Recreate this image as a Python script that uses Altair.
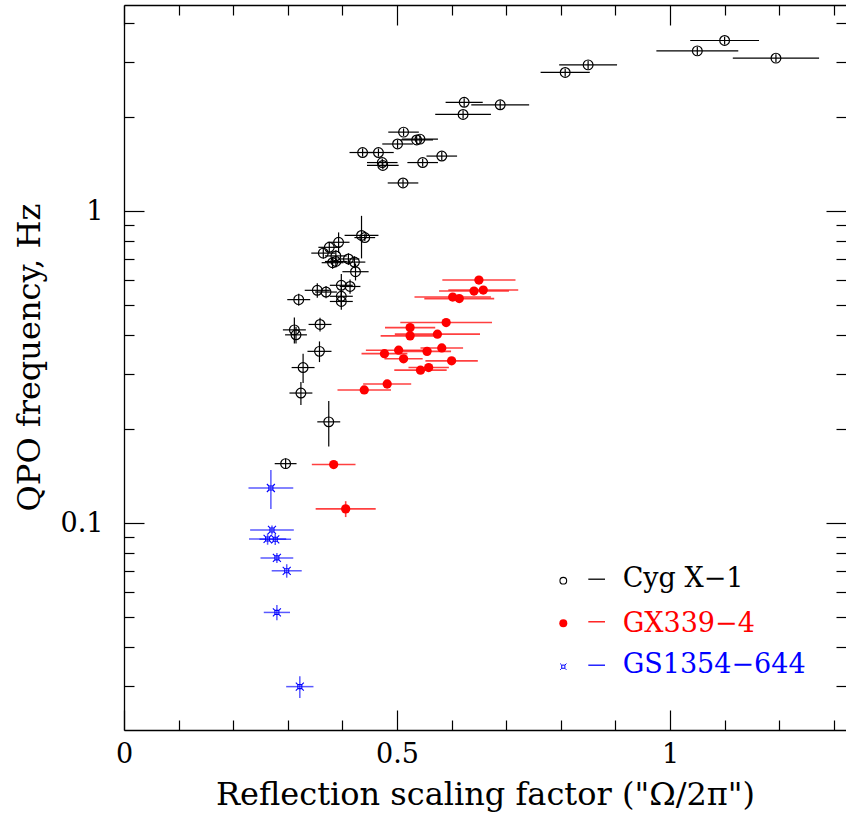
import altair as alt
import pandas as pd

# ---------------- data ----------------
# Cyg X-1  (x = reflection scaling factor, y = QPO frequency in Hz)
cyg_x = [1.100, 1.050, 1.194, 0.850, 0.808, 0.623, 0.689, 0.621, 0.512, 0.542,
         0.536, 0.501, 0.437, 0.466, 0.582, 0.473, 0.474, 0.547, 0.511,
         0.435, 0.441, 0.393, 0.376, 0.365, 0.388, 0.382, 0.388, 0.411, 0.422,
         0.424, 0.398, 0.414, 0.354, 0.370, 0.398, 0.398, 0.320, 0.359, 0.312,
         0.315, 0.358, 0.328, 0.324, 0.375, 0.296]
cyg_y = [3.52, 3.26, 3.09, 2.94, 2.78, 2.23, 2.19, 2.04, 1.79, 1.70,
         1.69, 1.64, 1.54, 1.54, 1.50, 1.43, 1.40, 1.43, 1.23,
         0.835, 0.822, 0.794, 0.765, 0.733, 0.718, 0.683, 0.689, 0.702, 0.686,
         0.639, 0.578, 0.573, 0.557, 0.550, 0.533, 0.513, 0.520, 0.433, 0.416,
         0.401, 0.355, 0.315, 0.261, 0.211, 0.155]
cyg_xerr = [0.063, 0.075, 0.079, 0.053, 0.045, 0.034, 0.053, 0.051, 0.028, 0.033,
            0.030, 0.028, 0.024, 0.028, 0.028, 0.028, 0.029, 0.028, 0.028,
            0.031, 0.019, 0.020, 0.020, 0.022, 0.020, 0.020, 0.020, 0.020, 0.020,
            0.024, 0.021, 0.019, 0.023, 0.020, 0.021, 0.021, 0.021, 0.021, 0.021,
            0.020, 0.022, 0.021, 0.021, 0.021, 0.020]
cyg_yerr = [0.10, 0.10, 0.09, 0.09, 0.08, 0.07, 0.07, 0.06, 0.05, 0.05,
            0.05, 0.05, 0.045, 0.045, 0.045, 0.04, 0.04, 0.04, 0.035,
            0.13, 0.02, 0.06, 0.03, 0.03, 0.03, 0.03, 0.03, 0.03, 0.03,
            0.04, 0.05, 0.03, 0.03, 0.025, 0.035, 0.03, 0.023, 0.022, 0.04,
            0.025, 0.027, 0.034, 0.022, 0.035, 0.006]

# GX339-4
gx_x = [0.650, 0.641, 0.658, 0.602, 0.614, 0.590, 0.524, 0.524, 0.574, 0.503,
        0.477, 0.555, 0.582, 0.512, 0.600, 0.543, 0.558, 0.482, 0.440, 0.384, 0.406]
gx_y = [0.601, 0.554, 0.558, 0.530, 0.524, 0.439, 0.423, 0.398, 0.403, 0.358,
        0.349, 0.355, 0.364, 0.336, 0.331, 0.309, 0.315, 0.279, 0.267, 0.154, 0.111]
gx_xerr = [0.067, 0.064, 0.064, 0.070, 0.064, 0.084, 0.046, 0.054, 0.078, 0.060,
           0.042, 0.044, 0.039, 0.035, 0.048, 0.048, 0.037, 0.044, 0.049, 0.040, 0.055]
gx_yerr = [0, 0, 0, 0, 0, 0, 0, 0, 0, 0,
           0, 0, 0, 0, 0, 0, 0, 0, 0, 0, 0.0065]

# GS1354-644
gs_x = [0.269, 0.271, 0.263, 0.277, 0.280, 0.298, 0.280, 0.322]
gs_y = [0.1295, 0.0950, 0.0889, 0.0887, 0.0773, 0.0703, 0.0517, 0.0299]
gs_xerr = [0.041, 0.040, 0.034, 0.029, 0.030, 0.0275, 0.024, 0.025]
gs_yerr = [0.0185, 0.0032, 0.0037, 0.0037, 0.0029, 0.0035, 0.0029, 0.0024]

legend_labels = ["Cyg X\u22121", "GX339\u22124", "GS1354\u2212644"]
x_title = "Reflection scaling factor (\"\u03a9/2\u03c0\")"
y_title = "QPO frequency, Hz"

x_major = [0, 0.5, 1.0]
x_minor = [0.1, 0.2, 0.3, 0.4, 0.6, 0.7, 0.8, 0.9, 1.1, 1.2, 1.3]
y_major = [0.1, 1.0]
y_minor = [0.03, 0.04, 0.05, 0.06, 0.07, 0.08, 0.09,
           0.2, 0.3, 0.4, 0.5, 0.6, 0.7, 0.8, 0.9, 2, 3, 4]

X_DOMAIN = [0, 1.3223]
Y_DOMAIN = [0.02171, 4.574]

# ---------------- layout / style ----------------
W, H = 722, 725
FONT = "DejaVu Serif"
BLACK, RED, BLUE = "#000000", "#ff0000", "#0000ff"
STAR = ("M-0.5,-0.5H0.5V0.5H-0.5Z"
        "M-0.5,-0.5L-1,-1M0.5,-0.5L1,-1M0.5,0.5L1,1M-0.5,0.5L-1,1")


def table(x, y, xerr, yerr):
    df = pd.DataFrame({"x": x, "y": y, "xerr": xerr, "yerr": yerr})
    df["xlo"] = df["x"] - df["xerr"]
    df["xhi"] = df["x"] + df["xerr"]
    df["ylo"] = df["y"] - df["yerr"]
    df["yhi"] = df["y"] + df["yerr"]
    return df


cyg = table(cyg_x, cyg_y, cyg_xerr, cyg_yerr)
gx = table(gx_x, gx_y, gx_xerr, gx_yerr)
gs = table(gs_x, gs_y, gs_xerr, gs_yerr)
leg = pd.DataFrame({"label": legend_labels, "row": [0, 1, 2]})

xs = alt.Scale(domain=X_DOMAIN, nice=False, zero=False)
ys = alt.Scale(type="log", domain=Y_DOMAIN, nice=False)


def tick_axis(orient, offset, values, size, domain=False):
    return alt.Axis(orient=orient, offset=offset, values=values, tickSize=size,
                    ticks=True, labels=False, domain=domain, domainColor=BLACK,
                    domainWidth=1.3, tickColor=BLACK, tickWidth=1.2, grid=False,
                    title=None)


ax_bottom = alt.Axis(orient="bottom", values=x_major, format="~g", ticks=False,
                     domain=True, domainColor=BLACK, domainWidth=1.3,
                     labelFont=FONT, labelFontSize=27, labelColor=BLACK,
                     labelPadding=11, labelFlush=False, labelOverlap=False,
                     title=x_title, titleFont=FONT, titleFontSize=32,
                     titleFontWeight="normal", titleColor=BLACK, titlePadding=12,
                     grid=False)
ax_left = alt.Axis(orient="left", values=y_major, format="~g", ticks=False,
                   domain=True, domainColor=BLACK, domainWidth=1.3,
                   labelFont=FONT, labelFontSize=27, labelColor=BLACK,
                   labelPadding=21, labelFlush=False, labelOverlap=False,
                   title=y_title, titleFont=FONT, titleFontSize=32,
                   titleFontWeight="normal", titleColor=BLACK, titlePadding=14,
                   titleY=352, grid=False)

# Cyg X-1
cyg_xbar = alt.Chart(cyg).mark_rule(color=BLACK, strokeWidth=1.2).encode(
    x=alt.X("xlo:Q", scale=xs, axis=ax_bottom), x2="xhi:Q",
    y=alt.Y("y:Q", scale=ys, axis=ax_left))
cyg_ybar = alt.Chart(cyg).mark_rule(color=BLACK, strokeWidth=1.2).encode(
    x=alt.X("x:Q", scale=xs, axis=tick_axis("top", -H, x_major, 20)),
    y=alt.Y("ylo:Q", scale=ys, axis=tick_axis("right", -W, y_major, 20)),
    y2="yhi:Q")
cyg_pts = alt.Chart(cyg).mark_point(shape="circle", filled=False, color=BLACK,
                                     strokeWidth=1.2, size=95, opacity=1).encode(
    x=alt.X("x:Q", scale=xs, axis=tick_axis("top", -H, x_minor, 10)),
    y=alt.Y("y:Q", scale=ys, axis=tick_axis("right", -W, y_minor, 10)))

# GX339-4
gx_xbar = alt.Chart(gx).mark_rule(color=RED, strokeWidth=1.6, opacity=0.75).encode(
    x=alt.X("xlo:Q", scale=xs, axis=tick_axis("bottom", -H, x_major, 20, True)),
    x2="xhi:Q",
    y=alt.Y("y:Q", scale=ys, axis=tick_axis("left", -W, y_major, 20)))
gx_ybar = alt.Chart(gx).transform_filter(alt.datum.yerr > 0).mark_rule(
    color=RED, strokeWidth=1.6, opacity=0.75).encode(
    x=alt.X("x:Q", scale=xs, axis=None),
    y=alt.Y("ylo:Q", scale=ys, axis=None), y2="yhi:Q")
gx_pts = alt.Chart(gx).mark_circle(color=RED, size=86, opacity=1).encode(
    x=alt.X("x:Q", scale=xs, axis=tick_axis("bottom", -H, x_minor, 10)),
    y=alt.Y("y:Q", scale=ys, axis=tick_axis("left", -W, y_minor, 10)))

# GS1354-644
gs_xbar = alt.Chart(gs).mark_rule(color=BLUE, strokeWidth=1.5, opacity=0.65).encode(
    x=alt.X("xlo:Q", scale=xs, axis=None), x2="xhi:Q",
    y=alt.Y("y:Q", scale=ys, axis=None))
gs_ybar = alt.Chart(gs).mark_rule(color=BLUE, strokeWidth=1.5, opacity=0.65).encode(
    x=alt.X("x:Q", scale=xs, axis=None),
    y=alt.Y("ylo:Q", scale=ys, axis=None), y2="yhi:Q")
gs_pts = alt.Chart(gs).mark_point(shape=STAR, filled=False, color=BLUE,
                                   strokeWidth=1.1, size=64, opacity=1).encode(
    x=alt.X("x:Q", scale=xs, axis=None),
    y=alt.Y("y:Q", scale=ys, axis=None))

# legend (drawn inside the plot, lower right)
leg_rows = [(BLACK, 575.7, 581.7), (RED, 618.3, 626.7), (BLUE, 661.7, 668.3)]
leg_marks = []
for i, (col, ysym, ybase) in enumerate(leg_rows):
    base = alt.Chart(leg).transform_filter(alt.datum.row == i)
    if i == 0:
        sym = base.mark_point(shape="circle", filled=False, color=col,
                              strokeWidth=1.1, size=45, opacity=1)
    elif i == 1:
        sym = base.mark_point(shape="circle", filled=True, color=col,
                              size=64, opacity=1)
    else:
        sym = base.mark_point(shape=STAR, filled=False, color=col,
                              strokeWidth=1.0, size=40, opacity=1)
    leg_marks.append(sym.encode(x=alt.value(439.3), y=alt.value(ysym)))
    leg_marks.append(base.mark_rule(color=col, strokeWidth=1.3).encode(
        x=alt.value(464.3), x2=alt.value(481), y=alt.value(ysym - 1.5)))
    leg_marks.append(base.mark_text(font=FONT, fontSize=27, color=col,
                                    align="left", baseline="alphabetic").encode(
        x=alt.value(498.7), y=alt.value(ybase), text="label:N"))

chart = alt.layer(
    cyg_xbar, cyg_ybar, cyg_pts,
    gx_xbar, gx_ybar, gx_pts,
    gs_xbar, gs_ybar, gs_pts,
    *leg_marks,
).resolve_axis(x="independent", y="independent").properties(
    width=W, height=H,
    padding={"left": 124, "top": 5, "right": 0, "bottom": 87},
    autosize=alt.AutoSizeParams(type="none"),
    background="white",
).configure_view(strokeWidth=0).configure_axis(grid=False)

chart.save("out.html", embed_options={"renderer": "svg", "actions": False})
